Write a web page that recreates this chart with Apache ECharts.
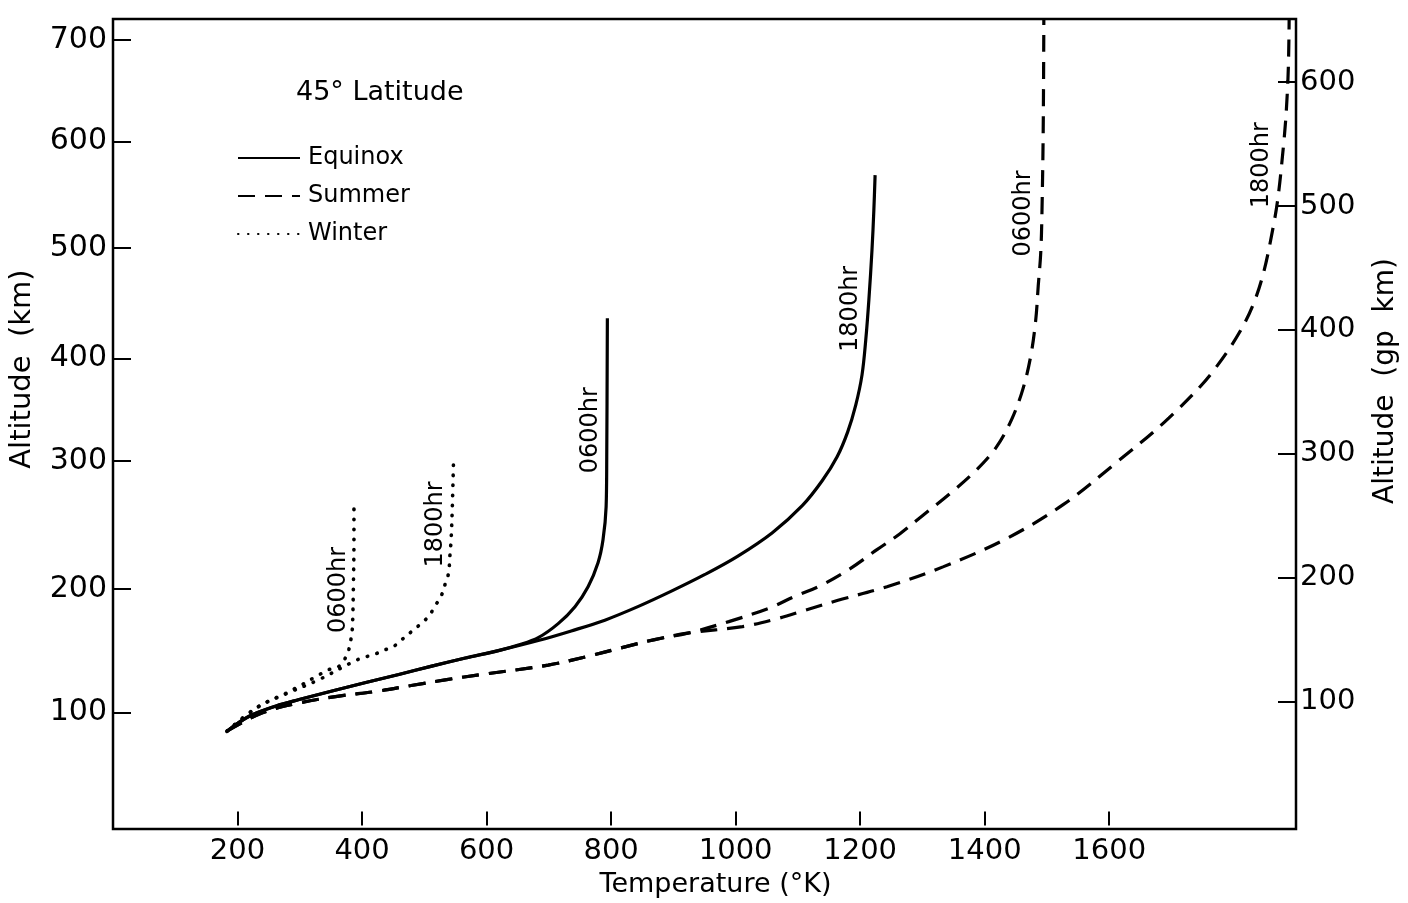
<!DOCTYPE html>
<html>
<head>
<meta charset="utf-8">
<title>Thermospheric temperature profiles, 45° latitude</title>
<script src="https://cdn.jsdelivr.net/npm/echarts@6/dist/echarts.min.js"></script>
<style>
  html, body { margin: 0; padding: 0; background: #fff; }
  #chart { width: 1408px; height: 903px; }
</style>
</head>
<body>
<div id="chart"></div>
<script>
// ---- Axis ticks -------------------------------------------------------
// Temperature (°K) tick values on the bottom axis
const temperatureTicks = [200, 400, 600, 800, 1000, 1200, 1400, 1600];
// Geopotential altitude (gp km) ticks on the right axis
const gpTicks = [100, 200, 300, 400, 500, 600];
// Geometric altitude (km) labels on the left axis and where they sit on the gp km scale
const kmTickLabels = [100, 200, 300, 400, 500, 600, 700];
const kmTickGp = [91, 191, 294, 377, 466, 552, 634];

// ---- Profiles: [temperature °K, altitude gp km] ------------------------
const equinox0600 = [
  [183, 76.0], [218, 87.9], [262, 96.4], [299, 101.6], [355, 108.9], [406, 115.3],
  [459, 121.8], [512, 128.6], [566, 135.1], [619, 141.1], [651, 145.6], [683, 151.6],
  [715, 162.9], [742, 176.6], [763, 192.7], [779, 212.1], [787, 230.6], [792, 257.3],
  [793, 297.6], [794, 409.4]
];
const equinox1800 = [
  [183, 76.0], [218, 87.9], [262, 96.4], [299, 101.6], [355, 108.9], [406, 115.3],
  [459, 121.8], [512, 128.6], [566, 135.1], [619, 141.1], [683, 149.2], [736, 157.0],
  [790, 165.7], [843, 176.6], [896, 188.9], [950, 202.4], [1003, 217.2],
  [1059, 236.3], [1107, 258.1], [1139, 278.2], [1163, 297.6], [1180, 317.7],
  [1193, 339.5], [1203, 363.7], [1209, 391.9], [1214, 424.2], [1219, 464.5],
  [1222, 496.8], [1224, 525.0]
];
const summer0600 = [
  [183, 76.0], [239, 90.7], [299, 98.8], [363, 104.4], [422, 108.1], [479, 112.9],
  [536, 117.7], [592, 121.8], [699, 129.4], [763, 136.5], [816, 143.3], [870, 150.0],
  [923, 155.2], [989, 164.5], [1056, 175.8], [1094, 184.7],
  [1136, 193.5], [1184, 207.3], [1227, 222.6], [1264, 235.5], [1302, 250.8],
  [1344, 267.7], [1387, 287.1], [1419, 305.6], [1443, 327.4], [1461, 351.6],
  [1474, 379.0], [1482, 408.1], [1486, 435.5], [1490, 462.1], [1492, 495.2],
  [1494, 562.1], [1495, 651.0]
];
const summer1800 = [
  [183, 76.0], [239, 90.7], [299, 98.8], [363, 104.4], [422, 108.1], [479, 112.9],
  [536, 117.7], [592, 121.8], [699, 129.4], [763, 136.5], [816, 143.3], [870, 150.0],
  [923, 155.2], [1011, 160.5], [1067, 166.9], [1110, 173.4],
  [1163, 181.5], [1243, 192.7], [1334, 208.9], [1435, 231.5], [1526, 258.9],
  [1611, 292.7], [1696, 329.0], [1771, 369.4], [1831, 420.2], [1864, 484.7],
  [1880, 549.2], [1887, 601.6], [1889, 651.0]
];
const winter0600 = [
  [183, 76.0], [235, 96.2], [277, 106.5], [299, 112.3], [325, 119.9], [347, 125.8],
  [363, 128.5], [376, 137.9], [381, 147.3], [384, 156.7], [385, 166.1], [386, 190.3],
  [387, 230.6], [387, 257.5]
];
const winter1800 = [
  [183, 76.0], [231, 95.2], [283, 107.3], [331, 117.7], [384, 131.7], [400, 135.2],
  [419, 137.9], [435, 141.4], [451, 144.6], [464, 150.0], [480, 156.7], [493, 162.1],
  [507, 168.8], [517, 176.9], [528, 186.3], [534, 195.7], [539, 203.8], [541, 217.2],
  [543, 230.6], [545, 257.5], [547, 296.5]
];

// Local-time tags written beside each profile: [text, temperature, gp km]
const curveTags = [
  ['0600hr', 363, 190],
  ['1800hr', 518, 243],
  ['0600hr', 768, 319],
  ['1800hr', 1185, 417],
  ['0600hr', 1462, 494],
  ['1800hr', 1845, 533]
];

// ---- Styling ------------------------------------------------------------
const FONT = 'DejaVu Sans';
const INK = '#000';

const solid = { color: INK, width: 3.2, type: 'solid' };
const dashed = { color: INK, width: 3.2, type: [17, 10], cap: 'butt' };
const dotted = { color: INK, width: 3.6, type: [0.5, 9.5], cap: 'round' };

function profile(name, data, lineStyle) {
  return {
    type: 'line',
    name: name,
    data: data,
    symbol: 'none',
    showSymbol: false,
    smooth: 0.35,
    clip: true,
    silent: true,
    itemStyle: { color: INK },
    lineStyle: lineStyle,
    z: 3
  };
}

function kmLabel(v) {
  let best = 0;
  for (let i = 1; i < kmTickGp.length; i++) {
    if (Math.abs(kmTickGp[i] - v) < Math.abs(kmTickGp[best] - v)) best = i;
  }
  return String(kmTickLabels[best]);
}

const chart = echarts.init(document.getElementById('chart'), null, { renderer: 'canvas' });

chart.setOption({
  animation: false,
  backgroundColor: '#fff',
  textStyle: { fontFamily: FONT, color: INK },
  title: {
    text: '45° Latitude',
    left: 296,
    top: 79,
    padding: 0,
    textStyle: { fontFamily: FONT, fontSize: 27, fontWeight: 'normal', color: INK }
  },
  legend: {
    orient: 'vertical',
    left: 237,
    top: 146,
    padding: 0,
    itemWidth: 62,
    itemHeight: 14,
    itemGap: 14,
    itemStyle: { opacity: 0 },
    data: ['Equinox', 'Summer', 'Winter'],
    textStyle: { fontFamily: FONT, fontSize: 24, color: INK, lineHeight: 24, padding: [0, 0, 0, 3] }
  },
  grid: {
    left: 113,
    right: 108,
    top: 19,
    bottom: 73,
    show: true,
    borderColor: INK,
    borderWidth: 2.5,
    backgroundColor: 'transparent'
  },
  xAxis: {
    type: 'value',
    min: 0,
    max: 1900,
    name: 'Temperature (°K)',
    nameLocation: 'middle',
    nameGap: 40,
    nameTextStyle: { fontFamily: FONT, fontSize: 27, color: INK, padding: [0, 0, 0, 22] },
    axisLine: { show: false },
    splitLine: { show: false },
    axisTick: {
      show: true, inside: true, length: 14,
      lineStyle: { color: INK, width: 2 },
      customValues: temperatureTicks
    },
    axisLabel: {
      fontFamily: FONT, fontSize: 29, color: INK, margin: 8,
      customValues: temperatureTicks,
      formatter: v => String(v)
    }
  },
  yAxis: [
    {
      type: 'value',
      position: 'left',
      min: -3,
      max: 651,
      name: 'Altitude  (km)',
      nameLocation: 'middle',
      nameRotate: 90,
      nameGap: 76,
      nameTextStyle: { fontFamily: FONT, fontSize: 29, color: INK, padding: [0, 0, 0, 110] },
      axisLine: { show: false },
      splitLine: { show: false },
      axisTick: {
        show: true, inside: true, length: 18,
        lineStyle: { color: INK, width: 2 },
        customValues: kmTickGp
      },
      axisLabel: {
        fontFamily: FONT, fontSize: 30, color: INK, margin: 6,
        customValues: kmTickGp,
        formatter: kmLabel
      }
    },
    {
      type: 'value',
      position: 'right',
      min: -3,
      max: 651,
      name: 'Altitude  (gp  km)',
      nameLocation: 'middle',
      nameRotate: 90,
      nameGap: 76,
      nameTextStyle: { fontFamily: FONT, fontSize: 28, color: INK, padding: [0, 0, 0, 86] },
      axisLine: { show: false },
      splitLine: { show: false },
      axisTick: {
        show: true, inside: true, length: 18,
        lineStyle: { color: INK, width: 2 },
        customValues: gpTicks
      },
      axisLabel: {
        fontFamily: FONT, fontSize: 29, color: INK, margin: 4,
        customValues: gpTicks
      }
    }
  ],
  series: [
    profile('Equinox', equinox0600, solid),
    profile('Equinox', equinox1800, solid),
    profile('Summer', summer0600, dashed),
    profile('Summer', summer1800, dashed),
    profile('Winter', winter0600, dotted),
    profile('Winter', winter1800, dotted),
    {
      type: 'scatter',
      name: 'tags',
      silent: true,
      symbolSize: 1,
      itemStyle: { color: 'rgba(255,255,255,0)' },
      data: curveTags.map(t => ({ name: t[0], value: [t[1], t[2]] })),
      label: {
        show: true,
        position: 'inside',
        formatter: '{b}',
        rotate: 90,
        fontFamily: FONT,
        fontSize: 24,
        color: INK,
        opacity: 1,
        textBorderWidth: 0
      },
      z: 4
    }
  ]
});
</script>
</body>
</html>
